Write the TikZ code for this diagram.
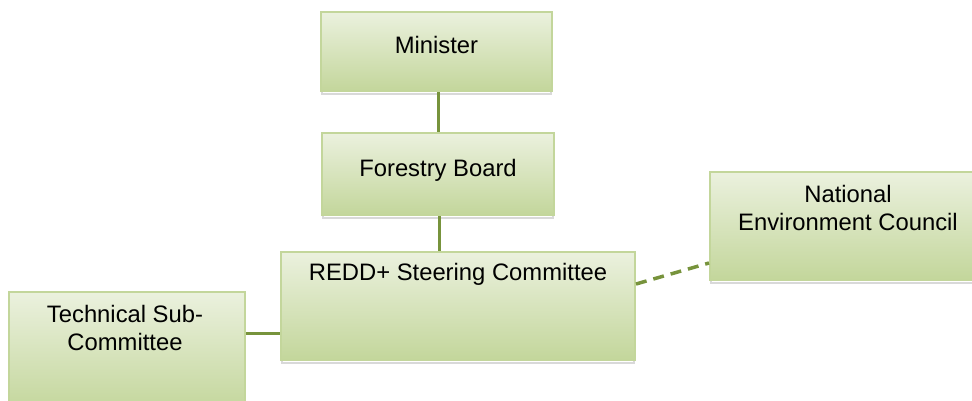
\documentclass[tikz,border=0pt]{standalone}
\usepackage{fontspec}
\setmainfont{Liberation Sans}
\definecolor{boxtop}{HTML}{EBF1DE}
\definecolor{boxbot}{HTML}{C3D69B}
\definecolor{boxline}{HTML}{C3D69B}
\definecolor{conn}{HTML}{77933C}
\definecolor{shad}{HTML}{D9D9D9}
\begin{document}
\begin{tikzpicture}[x=1pt,y=-1pt,
  orgbox/.style={rectangle, draw=boxline, line width=2pt, top color=boxtop, bottom color=boxbot, inner sep=0pt},
  lbl/.style={font=\fontsize{23.8}{28.5}\selectfont, align=center, inner sep=0pt},
  link/.style={draw=conn, line width=3pt},
  shadowbox/.style={fill=white, draw=shad, line width=1.5pt}]
\useasboundingbox (0,0) rectangle (972,400);
% shadows
\draw[shadowbox] (322,16) rectangle (551,94);
\draw[shadowbox] (323,137) rectangle (553,218);
\draw[shadowbox] (282,256) rectangle (634,363);
\draw[shadowbox] (711,176) rectangle (975,283);
% boxes
\node[orgbox, minimum width=231pt, minimum height=79pt] (min) at (436.5,51.5) {};
\node[orgbox, minimum width=232pt, minimum height=82pt] (fb) at (438,174) {};
\node[orgbox, minimum width=354pt, minimum height=108pt] (redd) at (458,306) {};
\node[orgbox, minimum width=236pt, minimum height=120pt] (tech) at (127,352) {};
\node[orgbox, minimum width=266pt, minimum height=108pt] (nec) at (843,226) {};
% texts
\node[lbl] (tmin) at (436.5,45) {Minister};
\node[lbl] (tfb) at (438,170) {Forestry Board};
\node[lbl] (tredd) at (458,274) {REDD+ Steering Committee};
\node[lbl] (ttech) at (125,328) {Technical Sub-\\Committee};
\node[lbl] (tnec) at (848,208) {National\\Environment Council};
% connectors
\draw[link] (min.south -| fb.north) -- (fb.north);
\draw[link] (fb.south) ++(1,0) coordinate (fbs) (fbs) -- (fbs |- redd.north);
\draw[link] (tech.east |- 0,333) -- (redd.west |- 0,333);
\draw[link, line width=3.5pt, dash pattern=on 11pt off 7pt] (redd.east |- 0,284) -- (nec.west |- 0,263);
\end{tikzpicture}
\end{document}
